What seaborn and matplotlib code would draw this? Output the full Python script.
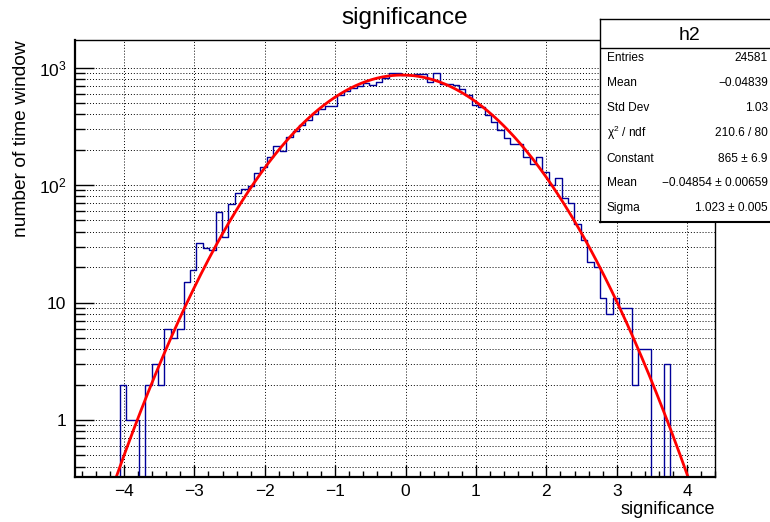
import numpy as np
import pandas as pd
import matplotlib
matplotlib.use("Agg")
import matplotlib.pyplot as plt
from matplotlib.ticker import MultipleLocator, LogLocator, NullFormatter
import seaborn as sns

# histogram h2: 100 bins between -4.7 and 4.4
x_min, x_max, n_bins = -4.7, 4.4, 100
counts = [0, 0, 0, 0, 0, 0, 0, 2, 1, 1,
          0, 2, 3, 2, 6, 5, 6, 15, 19, 32,
          29, 28, 59, 36, 69, 86, 92, 98, 128, 143,
          173, 216, 197, 256, 291, 326, 355, 407, 448, 470,
          470, 585, 632, 675, 700, 740, 705, 750, 813, 898,
          898, 868, 868, 885, 885, 762, 908, 730, 730, 715,
          656, 590, 478, 466, 396, 342, 295, 251, 225, 223,
          175, 152, 173, 130, 100, 114, 77, 71, 47, 34,
          22, 20, 11, 8, 11, 9, 9, 2, 4, 4,
          0, 0, 3, 0, 0, 0, 0, 0, 0, 0]

# gaussian fit parameters (from the stats box)
fit_constant = 865.0
fit_mean = -0.04854
fit_sigma = 1.023

stats_labels = ["Entries", "Mean", "Std Dev", "χ$^{2}$ / ndf", "Constant", "Mean", "Sigma"]
stats_values = ["24581", "−0.04839", "1.03", "210.6 / 80", "865 ± 6.9",
                "−0.04854 ± 0.00659", "1.023 ± 0.005"]

x_ticks = [-4, -3, -2, -1, 0, 1, 2, 3, 4]
y_ticks = [1, 10, 100, 1000]
y_tick_labels = ["1", "10", "$10^{2}$", "$10^{3}$"]

sns.set_style("white")
plt.rcParams["font.family"] = ["Liberation Sans", "DejaVu Sans"]
plt.rcParams["mathtext.fontset"] = "custom"
plt.rcParams["mathtext.rm"] = "Liberation Sans"
plt.rcParams["mathtext.it"] = "Liberation Sans:italic"
plt.rcParams["mathtext.bf"] = "Liberation Sans:bold"
for key in ["text.color", "axes.labelcolor", "xtick.color", "ytick.color"]:
    plt.rcParams[key] = "black"

edges = np.linspace(x_min, x_max, n_bins + 1)
hist_df = pd.DataFrame({"center": 0.5 * (edges[:-1] + edges[1:]), "count": counts})

fig = plt.figure(figsize=(7.7, 5.22), dpi=100)
ax = fig.add_axes([74.7 / 770, 1 - 477.3 / 522, 640.6 / 770, 437.3 / 522])

# histogram outline
sns.histplot(data=hist_df, x="center", weights="count", bins=n_bins,
             binrange=(x_min, x_max), element="step", fill=False,
             color="#000099", linewidth=1, ax=ax)

# fit curve
xs = np.linspace(x_min, x_max, 600)
fit_curve = fit_constant * np.exp(-0.5 * ((xs - fit_mean) / fit_sigma) ** 2)
sns.lineplot(x=xs, y=fit_curve, color="red", linewidth=2, ax=ax)

ax.set_yscale("log")
ax.set_xlim(x_min, x_max)
ax.set_ylim(0.325, 1720)

ax.set_xticks(x_ticks)
ax.xaxis.set_minor_locator(MultipleLocator(0.2))
ax.set_yticks(y_ticks, y_tick_labels)
ax.yaxis.set_minor_locator(LogLocator(base=10, subs=np.arange(2, 10), numticks=20))
ax.yaxis.set_minor_formatter(NullFormatter())

ax.tick_params(axis="x", which="major", direction="in", length=9, width=1,
               labelsize=12.5, pad=5, top=False, bottom=True, colors="black")
ax.tick_params(axis="x", which="minor", direction="in", length=4.5, width=1,
               top=False, bottom=True, colors="black")
ax.tick_params(axis="y", which="major", direction="in", length=13.5, width=1,
               labelsize=12.5, pad=6, left=True, right=False, colors="black")
ax.tick_params(axis="y", which="minor", direction="in", length=7.5, width=1,
               left=True, right=False, colors="black")

grid_style = dict(color="black", linestyle=(0, (1, 2)), linewidth=0.7)
ax.grid(True, which="major", axis="x", **grid_style)
ax.grid(True, which="both", axis="y", **grid_style)
ax.set_axisbelow(True)

for side in ["top", "right"]:
    ax.spines[side].set_color("black")
    ax.spines[side].set_linewidth(1)
for side in ["bottom", "left"]:
    ax.spines[side].set_color("black")
    ax.spines[side].set_linewidth(1.6)

ax.set_title("significance", fontsize=17.5, x=0.515, y=1.05, va="center", pad=0,
             color="black")
ax.set_xlabel("significance", fontsize=13, loc="right", color="black")
ax.xaxis.set_label_coords(1.0, -0.055)
ax.set_ylabel("number of time window", fontsize=13.8, color="black")
ax.yaxis.set_label_coords(-0.0698, 0.775)

# stats box
sax = fig.add_axes([600 / 770, 1 - 222 / 522, 171 / 770, 203 / 522])
sax.set_xlim(0, 1)
sax.set_ylim(0, 1)
sax.set_xticks([])
sax.set_yticks([])
sax.set_facecolor("white")
for side in sax.spines:
    sax.spines[side].set_color("black")
    sax.spines[side].set_linewidth(1)
sax.spines["bottom"].set_linewidth(1.5)
sax.axhline(0.859, color="black", linewidth=1)
sax.text(0.521, 0.921, "h2", ha="center", va="center", fontsize=14, color="black")
row_y = [0.809, 0.683, 0.560, 0.437, 0.310, 0.191, 0.069]
for yy, lab, val in zip(row_y, stats_labels, stats_values):
    sax.text(0.04, yy, lab, ha="left", va="center", fontsize=8.6, color="black")
    sax.text(0.982, yy, val, ha="right", va="center", fontsize=8.6, color="black")

fig.savefig("out.png", dpi=100)
